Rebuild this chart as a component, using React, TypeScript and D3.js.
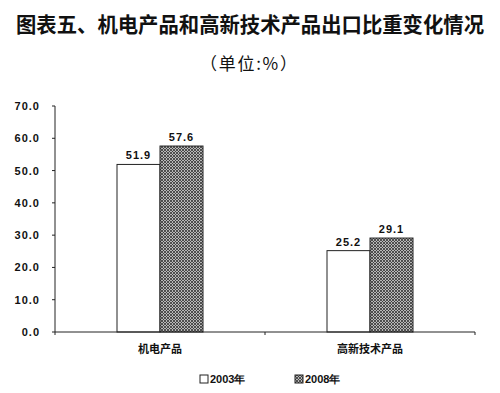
import React from "react";
import * as d3 from "d3";

const categories = ["机电产品", "高新技术产品"];
const seriesNames = ["2003年", "2008年"];
const values2003 = [51.9, 25.2];
const values2008 = [57.6, 29.1];
const yTicks = [0, 10, 20, 30, 40, 50, 60, 70];

export default function App() {
  const W = 500, H = 393;
  const left = 55, right = 475, top = 106, bottom = 332;
  const x = d3.scaleBand<string>().domain(categories).range([left, right]);
  const inner = d3.scaleBand<string>().domain(seriesNames).range([0, 86]);
  const y = d3.scaleLinear().domain([0, 70]).range([bottom, top]);
  const series = [values2003, values2008];
  const font = "'Liberation Sans', Arial, sans-serif";
  const cjk = "'Noto Sans CJK SC', sans-serif";
  return (
    <svg width={W} height={H} style={{ position: "absolute", left: 0, top: 0, background: "#fff" }}>
      <defs>
        <pattern id="hatch" width="3" height="3" patternUnits="userSpaceOnUse">
          <rect width="3" height="3" fill="#b8b8b8" />
          <path d="M0,0 L3,3 M3,0 L0,3" stroke="#333" strokeWidth="0.8" />
        </pattern>
      </defs>
      <text x={16} y={32} fontFamily={cjk} fontSize={21} fontWeight="bold" textLength={468} lengthAdjust="spacingAndGlyphs" fill="#111">
        图表五、机电产品和高新技术产品出口比重变化情况
      </text>
      <text x={200} y={70} fontFamily={cjk} fontSize={17} fill="#111" textLength={97} lengthAdjust="spacing">
        （单位:%）
      </text>
      {/* y axis */}
      <line x1={left} x2={left} y1={top} y2={bottom} stroke="#222" strokeWidth={1} />
      {yTicks.map((t) => (
        <g key={t}>
          <line x1={left - 3} x2={left} y1={y(t)} y2={y(t)} stroke="#222" />
          <text x={40} y={y(t) + 4} textAnchor="end" fontFamily={font} fontSize={11} fontWeight="bold" letterSpacing={1} fill="#111">
            {t.toFixed(1)}
          </text>
        </g>
      ))}
      {/* bars */}
      {categories.map((c, i) => {
        const c0 = x(c)! + x.bandwidth() / 2 - 43;
        return (
          <g key={c}>
            {seriesNames.map((s, j) => {
              const v = series[j][i];
              const bx = c0 + inner(s)!;
              return (
                <g key={s}>
                  <rect x={bx} y={y(v)} width={inner.bandwidth()} height={bottom - y(v)}
                    fill={j === 0 ? "#fff" : "url(#hatch)"} stroke="#222" strokeWidth={1} />
                  <text x={bx + inner.bandwidth() / 2} y={y(v) - 5} textAnchor="middle" fontFamily={font} fontSize={11} fontWeight="bold" letterSpacing={1} fill="#111">
                    {v.toFixed(1)}
                  </text>
                </g>
              );
            })}
            <text x={x(c)! + x.bandwidth() / 2} y={353} textAnchor="middle" fontFamily={cjk} fontSize={11} fontWeight="bold" fill="#111">
              {c}
            </text>
          </g>
        );
      })}
      {/* x axis */}
      <line x1={left} x2={right} y1={bottom} y2={bottom} stroke="#222" />
      {[left, ...categories.map((c) => x(c)! + x.bandwidth())].map((p, i) => (
        <line key={i} x1={p} x2={p} y1={bottom} y2={bottom + 3} stroke="#222" />
      ))}
      {/* legend */}
      <rect x={200} y={375} width={8} height={8} fill="#fff" stroke="#222" strokeWidth={1} />
      <text x={210} y={383} fontFamily={font} fontSize={11} fontWeight="bold" fill="#111">{seriesNames[0]}</text>
      <rect x={295} y={375} width={8} height={8} fill="url(#hatch)" stroke="#222" strokeWidth={1} />
      <text x={305} y={383} fontFamily={font} fontSize={11} fontWeight="bold" fill="#111">{seriesNames[1]}</text>
    </svg>
  );
}
